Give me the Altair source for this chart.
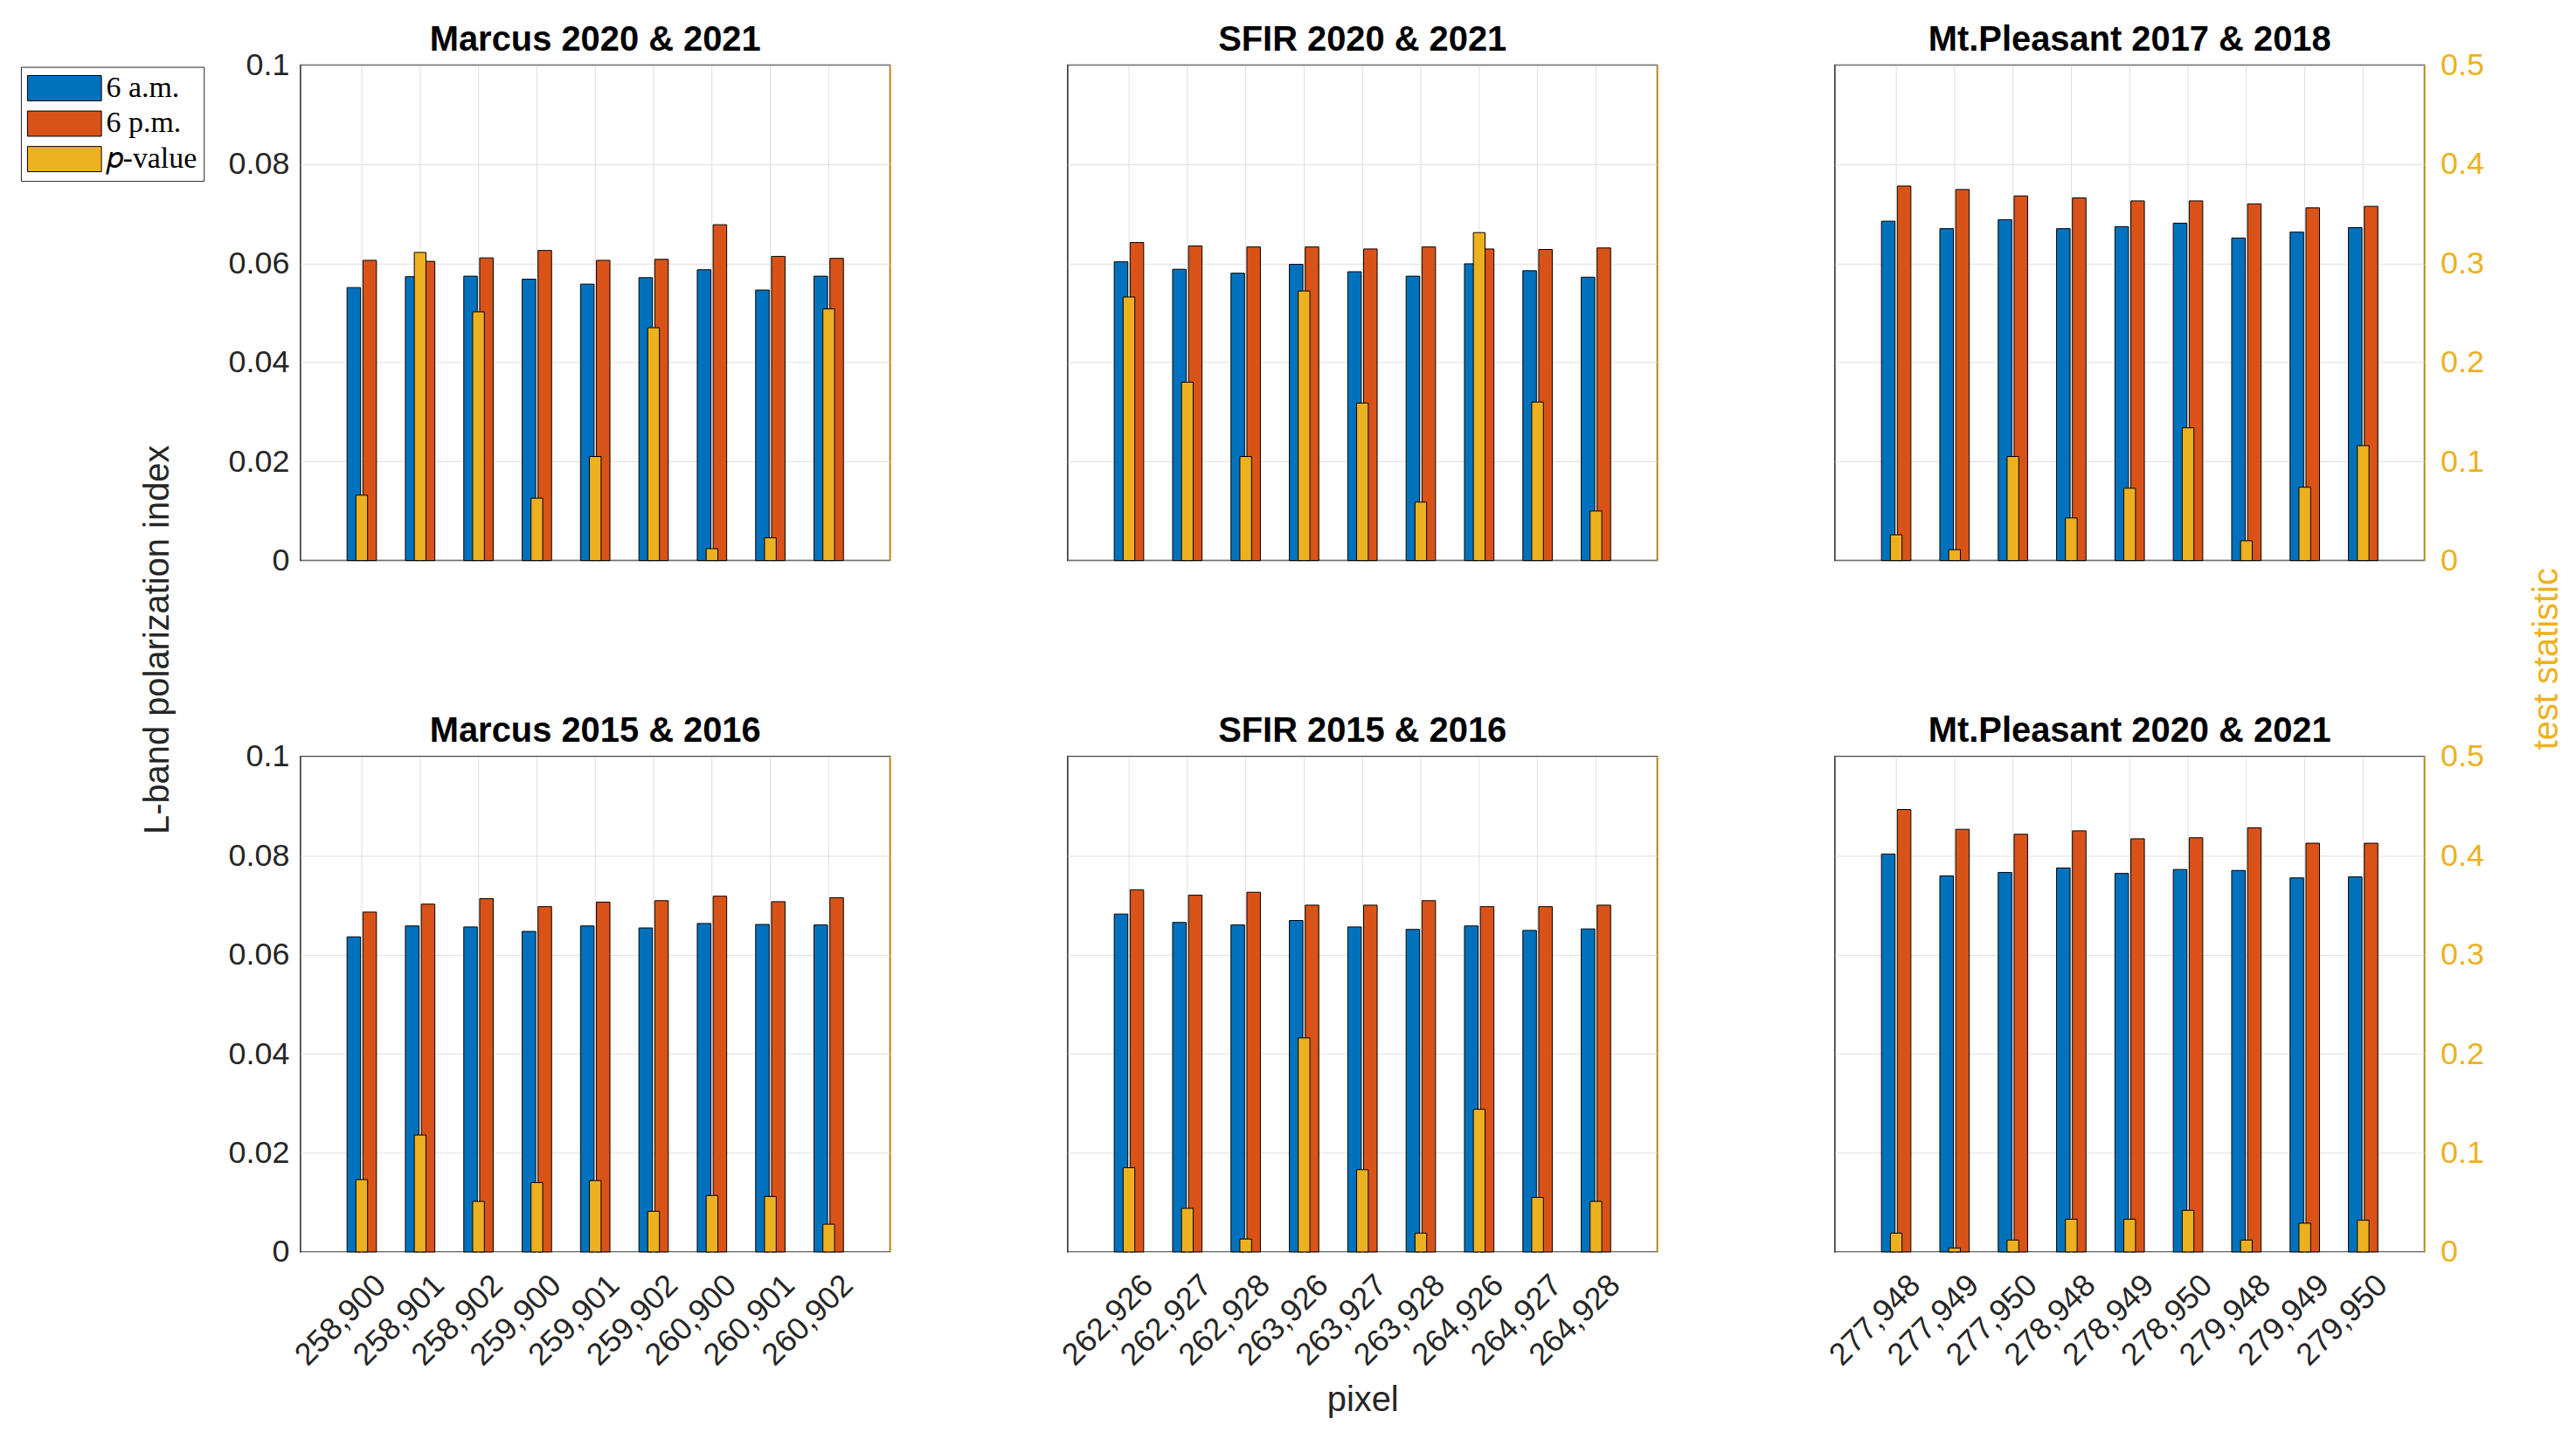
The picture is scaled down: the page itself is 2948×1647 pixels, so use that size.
import altair as alt
import pandas as pd

# ---------------- data ----------------
series_names = ["6 a.m.", "6 p.m.", "𝑝-value"]
series_colors = ["#0072BD", "#D95319", "#EDB120"]

pixels_marcus = ["258,900", "258,901", "258,902", "259,900", "259,901",
                 "259,902", "260,900", "260,901", "260,902"]
pixels_sfir = ["262,926", "262,927", "262,928", "263,926", "263,927",
               "263,928", "264,926", "264,927", "264,928"]
pixels_mtp = ["277,948", "277,949", "277,950", "278,948", "278,949",
              "278,950", "279,948", "279,949", "279,950"]

titles = ["Marcus 2020 & 2021", "SFIR 2020 & 2021", "Mt.Pleasant 2017 & 2018",
          "Marcus 2015 & 2016", "SFIR 2015 & 2016", "Mt.Pleasant 2020 & 2021"]

marcus_2021_am = [0.0551, 0.0573, 0.0574, 0.0568, 0.0558, 0.0571, 0.0587, 0.0546, 0.0574]
marcus_2021_pm = [0.0606, 0.0604, 0.0611, 0.0626, 0.0606, 0.0608, 0.0678, 0.0614, 0.0610]
marcus_2021_pv = [0.066, 0.311, 0.251, 0.063, 0.105, 0.235, 0.012, 0.023, 0.254]

sfir_2021_am = [0.0603, 0.0588, 0.0580, 0.0598, 0.0583, 0.0574, 0.0599, 0.0585, 0.0572]
sfir_2021_pm = [0.0642, 0.0635, 0.0633, 0.0633, 0.0629, 0.0633, 0.0629, 0.0628, 0.0631]
sfir_2021_pv = [0.266, 0.180, 0.105, 0.272, 0.159, 0.059, 0.331, 0.160, 0.050]

mtp_2018_am = [0.0685, 0.0670, 0.0688, 0.0670, 0.0674, 0.0681, 0.0651, 0.0663, 0.0672]
mtp_2018_pm = [0.0756, 0.0749, 0.0736, 0.0732, 0.0726, 0.0726, 0.0720, 0.0712, 0.0715]
mtp_2018_pv = [0.026, 0.011, 0.105, 0.043, 0.073, 0.134, 0.020, 0.074, 0.116]

marcus_2016_am = [0.0636, 0.0658, 0.0656, 0.0647, 0.0658, 0.0654, 0.0663, 0.0661, 0.0660]
marcus_2016_pm = [0.0686, 0.0702, 0.0713, 0.0697, 0.0706, 0.0709, 0.0718, 0.0707, 0.0715]
marcus_2016_pv = [0.073, 0.118, 0.051, 0.070, 0.072, 0.041, 0.057, 0.056, 0.028]

sfir_2016_am = [0.0682, 0.0665, 0.0660, 0.0669, 0.0656, 0.0651, 0.0658, 0.0649, 0.0652]
sfir_2016_pm = [0.0731, 0.0720, 0.0726, 0.0700, 0.0700, 0.0709, 0.0697, 0.0697, 0.0700]
sfir_2016_pv = [0.085, 0.044, 0.013, 0.216, 0.083, 0.019, 0.144, 0.055, 0.051]

mtp_2021_am = [0.0803, 0.0759, 0.0766, 0.0775, 0.0764, 0.0772, 0.0770, 0.0755, 0.0757]
mtp_2021_pm = [0.0893, 0.0853, 0.0843, 0.0850, 0.0834, 0.0836, 0.0856, 0.0825, 0.0825]
mtp_2021_pv = [0.019, 0.004, 0.012, 0.033, 0.033, 0.042, 0.012, 0.029, 0.032]

left_ticks = [0, 0.02, 0.04, 0.06, 0.08, 0.1]
right_ticks = [0, 0.1, 0.2, 0.3, 0.4, 0.5]

# ---------------- style ----------------
W, H = 677, 569
FONT = "Liberation Sans"
AX = "#262626"
GRID = "#DFDFDF"
YEL = "#EDB120"

legend = alt.Legend(
    title=None, orient="none", legendX=-321, legendY=2, direction="vertical",
    symbolType="M-2.93,-1H2.93V1H-2.93Z", symbolSize=841, symbolOffset=25.5,
    symbolStrokeColor="black", symbolStrokeWidth=1, symbolOpacity=1,
    labelFont="Liberation Serif", labelFontSize=34, labelColor="black",
    labelOffset=31, rowPadding=6.7, padding=7.5, labelLimit=0,
    strokeColor=AX, fillColor="white", cornerRadius=0,
)
color = alt.Color("series:N", scale=alt.Scale(domain=series_names, range=series_colors),
                  legend=legend)


def panel(idx, cats, am, pm, pv):
    row, col = divmod(idx, 3)
    df = pd.DataFrame({"pixel": cats * 2,
                       "series": [series_names[0]] * len(cats) + [series_names[1]] * len(cats),
                       "value": am + pm})
    dp = pd.DataFrame({"pixel": cats, "series": [series_names[2]] * len(cats), "value": pv})

    xscale = alt.Scale(domain=cats, paddingInner=0, paddingOuter=0.55)
    xaxis_kw = dict(grid=True, gridColor=GRID, gridWidth=1, bandPosition=0.5, ticks=False,
                    domain=False, labels=(row == 1), labelAngle=315, labelAlign="right",
                    labelBaseline="middle", labelFont=FONT, labelFontSize=36, labelColor=AX,
                    labelPadding=32, labelOffset=22, title=None)
    if idx == 4:
        xaxis_kw.update(title="pixel", titleFont=FONT, titleFontSize=40, titleFontWeight="normal",
                        titleColor=AX, titleX=W / 2, titleY=182.5, titleAlign="center",
                        titleBaseline="alphabetic")
    yl_kw = dict(values=left_ticks, format="~g", grid=True, gridColor=GRID, gridWidth=1,
                 ticks=False, domain=False, labelFont=FONT, labelFontSize=36, labelColor=AX,
                 labelPadding=13, labelOpacity=1 if col == 0 else 0, title=None)
    if idx == 0:
        yl_kw.update(title="L-band polarization index", titleFont=FONT, titleFontSize=40,
                     titleFontWeight="normal", titleColor=AX, titleX=-152, titleY=659.5,
                     titleAngle=270, titleAlign="center", titleBaseline="alphabetic")
    yr_kw = dict(orient="right", values=right_ticks, format="~g", grid=False, ticks=False,
                 domain=True, domainColor=YEL, domainWidth=1.5, labelFont=FONT, labelFontSize=36,
                 labelColor=YEL, labelPadding=18, labelOpacity=1 if col == 2 else 0, title=None)
    if idx == 2:
        yr_kw.update(title="test statistic", titleFont=FONT, titleFontSize=40,
                     titleFontWeight="normal", titleColor=YEL, titleX=152, titleY=681.5,
                     titleAngle=270, titleAlign="center", titleBaseline="alphabetic")

    xaxis = alt.Axis(**xaxis_kw)
    bars = alt.Chart(df).mark_bar(stroke="black", strokeWidth=1).encode(
        x=alt.X("pixel:N", sort=cats, scale=xscale, axis=xaxis),
        xOffset=alt.XOffset("series:N", sort=series_names[:2],
                            scale=alt.Scale(domain=series_names[:2], paddingInner=0.147,
                                            paddingOuter=0.912)),
        y=alt.Y("value:Q", scale=alt.Scale(domain=[0, 0.1], nice=False), axis=alt.Axis(**yl_kw)),
        color=color,
    )
    pbars = alt.Chart(dp).mark_bar(stroke="black", strokeWidth=1,
                                   width=alt.RelativeBandSize(0.2)).encode(
        x=alt.X("pixel:N", sort=cats, scale=xscale, axis=xaxis),
        y=alt.Y("value:Q", scale=alt.Scale(domain=[0, 0.5], nice=False), axis=alt.Axis(**yr_kw)),
        color=color,
    )
    return alt.layer(bars, pbars).resolve_scale(y="independent").properties(
        width=W, height=H,
        title=alt.TitleParams(titles[idx], font=FONT, fontSize=40, fontWeight="bold",
                              color="black", anchor="middle", frame="group",
                              baseline="alphabetic", offset=-41),
    )


panels = [
    panel(0, pixels_marcus, marcus_2021_am, marcus_2021_pm, marcus_2021_pv),
    panel(1, pixels_sfir, sfir_2021_am, sfir_2021_pm, sfir_2021_pv),
    panel(2, pixels_mtp, mtp_2018_am, mtp_2018_pm, mtp_2018_pv),
    panel(3, pixels_marcus, marcus_2016_am, marcus_2016_pm, marcus_2016_pv),
    panel(4, pixels_sfir, sfir_2016_am, sfir_2016_pm, sfir_2016_pv),
    panel(5, pixels_mtp, mtp_2021_am, mtp_2021_pm, mtp_2021_pv),
]

chart = alt.concat(
    *panels, columns=3, spacing={"row": 225, "column": 204}, bounds="flush"
).resolve_scale(x="independent", y="independent").properties(
    padding={"left": 15, "top": 14, "right": 5, "bottom": 5},
    background="white",
).configure_view(stroke=AX, strokeWidth=1.5)

chart.save("out.html", embed_options={"renderer": "svg", "actions": False})
